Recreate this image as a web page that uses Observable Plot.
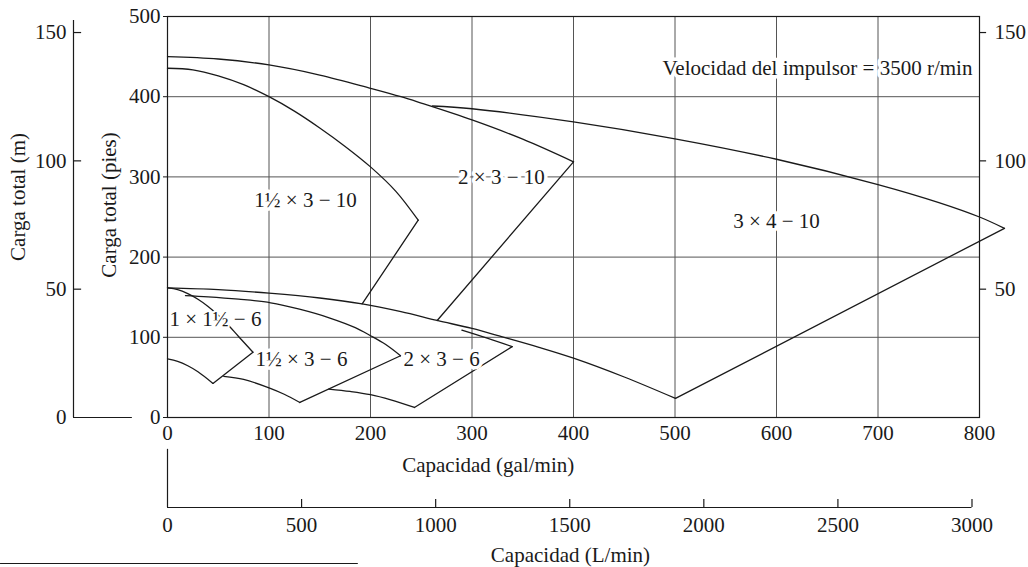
<!DOCTYPE html>
<html>
<head>
<meta charset="utf-8">
<script src="https://cdn.jsdelivr.net/npm/d3@7"></script>
<script src="https://cdn.jsdelivr.net/npm/@observablehq/plot@0.6"></script>
<style>
  html, body { margin: 0; padding: 0; background: #ffffff; }
  #chart { width: 1028px; height: 567px; overflow: hidden; }
</style>
</head>
<body>
<div id="chart"></div>
<script>
// ---------- tick values ----------
const gpmTicks = [0, 100, 200, 300, 400, 500, 600, 700, 800];
const ftTicks = [0, 100, 200, 300, 400, 500];
const mTicks = [0, 50, 100, 150];
const lpmTicks = [0, 500, 1000, 1500, 2000, 2500, 3000];
const FT_PER_M = 3.2;      // meter scale as drawn on the chart
const L_PER_GAL = 3.785;   // L/min per gal/min

// ---------- curves: [capacity gal/min, head ft] ----------
// 10-in impellers, maximum-diameter curves
const max_1h_3_10 = [[0, 435.5], [25, 433.5], [50, 426], [75, 415], [100, 400], [125, 382], [150, 361], [175, 338], [200, 312.5], [225, 282], [247, 246]];
const max_2_3_10 = [[0, 450], [50, 447], [100, 439.6], [150, 427], [200, 410.5], [230, 400], [250, 392], [300, 371], [350, 347], [400, 318.8]];
const max_3_4_10 = [[261, 388.4], [300, 385], [400, 368.5], [500, 347.5], [600, 322], [700, 290.5], [760, 268], [800, 250], [824.6, 235.9]];
// 10-in minimum-diameter curve (shared lower boundary)
const min_10 = [[0, 161.7], [50, 159.5], [100, 155], [150, 149], [191.8, 141.7], [230, 132], [265.7, 121], [300, 111], [330, 100.5], [366, 87.5], [400, 74], [450, 50.5], [500.5, 23.8]];
// 6-in impellers
const max_1_1h_6 = [[0, 161.7], [10, 159.5], [20, 154.5], [30, 147.5], [40, 138.5], [50, 127.5], [60, 115], [70, 101], [84.2, 81.3]];
const min_1_1h_6 = [[0, 73], [10, 70], [20, 64.5], [30, 57], [44.8, 42.5]];
const max_1h_3_6 = [[17.7, 152], [40, 150.5], [70, 147.5], [101.6, 143], [130, 135], [160, 124], [185, 112], [200, 102], [215, 91], [229.6, 77]];
const min_1h_3_6 = [[55.5, 51.3], [75, 47.5], [100, 37], [115, 29], [130.4, 18.75]];
const max_2_3_6 = [[290, 109], [315, 99], [339.6, 88.4]];
const min_2_3_6 = [[158.9, 35.5], [180, 32.5], [200, 28.5], [220, 22], [243.3, 12.5]];
// straight right-hand boundaries
const edge_1h_3_10 = [[247, 246], [191.8, 141.7]];
const edge_2_3_10 = [[400, 318.8], [265.7, 120.9]];
const edge_3_4_10 = [[824.6, 235.9], [500.5, 23.8]];
const edge_1_1h_6 = [[84.2, 81.3], [44.8, 42.5]];
const edge_1h_3_6 = [[229.6, 77], [130.4, 18.75]];
const edge_2_3_6 = [[339.6, 88.4], [243.3, 12.5]];

// ---------- labels ----------
const pumpNames = ["1½ × 3 − 10", "2 × 3 − 10", "3 × 4 − 10", "1 × 1½ − 6", "1½ × 3 − 6", "2 × 3 − 6"];
const pumpLabelQ = [136, 329, 600, 2, 132, 270];
const pumpLabelH = [271, 299, 245, 123, 73, 73];
const pumpLabelAnchor = ["middle", "middle", "middle", "start", "middle", "middle"];
const speedNote = "Velocidad del impulsor = 3500 r/min";

// ---------- build tables ----------
const smoothCurves = {max_1h_3_10, max_2_3_10, max_3_4_10, min_10, max_1_1h_6, min_1_1h_6, max_1h_3_6, min_1h_3_6, max_2_3_6, min_2_3_6};
const straightEdges = {edge_1h_3_10, edge_2_3_10, edge_3_4_10, edge_1_1h_6, edge_1h_3_6, edge_2_3_6};
const toRows = obj => Object.entries(obj).flatMap(([id, pts]) => pts.map(([q, h]) => ({id, q, h})));
const smoothRows = toRows(smoothCurves);
const edgeRows = toRows(straightEdges);
const labelRows = pumpNames.map((t, i) => ({t, q: pumpLabelQ[i], h: pumpLabelH[i], a: pumpLabelAnchor[i]}));

const FONT = "'Liberation Serif', 'Times New Roman', Times, serif";
const INK = "#1a1a1a";
const GRID = "#555555";
const FS = 21;

const chart = Plot.plot({
  width: 1028,
  height: 567,
  marginLeft: 167,
  marginRight: 49,
  marginTop: 16,
  marginBottom: 150,
  style: {fontFamily: FONT, fontSize: FS + "px", color: INK, background: "#ffffff"},
  x: {domain: [0, 800], ticks: gpmTicks, tickSize: 0, tickPadding: 8, label: null, tickFormat: d => String(d)},
  y: {domain: [0, 500], ticks: ftTicks, tickSize: 4, tickPadding: 3, label: null, tickFormat: d => String(d)},
  marks: [
    // grid
    Plot.ruleX(gpmTicks.slice(1, -1), {y1: 0, y2: 500, stroke: GRID, strokeWidth: 1}),
    Plot.ruleY(ftTicks.slice(1, -1), {x1: 0, x2: 800, stroke: GRID, strokeWidth: 1}),
    Plot.frame({stroke: INK, strokeWidth: 1.2}),
    // curves
    Plot.line(smoothRows, {x: "q", y: "h", z: "id", curve: "catmull-rom", stroke: INK, strokeWidth: 1.3}),
    Plot.line(edgeRows, {x: "q", y: "h", z: "id", curve: "linear", stroke: INK, strokeWidth: 1.3}),
    // pump labels with white halo (breaks the grid as in the original)
    Plot.text(labelRows.filter(d => d.a === "middle"), {x: "q", y: "h", text: "t", textAnchor: "middle", fontSize: FS, fill: INK, stroke: "white", strokeWidth: 7}),
    Plot.text(labelRows.filter(d => d.a === "start"), {x: "q", y: "h", text: "t", textAnchor: "start", fontSize: FS, fill: INK, stroke: "white", strokeWidth: 4}),
    Plot.text([speedNote], {x: 793, y: 436, text: d => d, textAnchor: "end", fontSize: FS, fill: INK, stroke: "white", strokeWidth: 7}),
    // left metre axis
    Plot.ruleX([0], {y1: 0, y2: 495, dx: -94, stroke: INK, strokeWidth: 1.2}),
    Plot.ruleY([0], {x1: 0, x2: 58, dx: -94, stroke: INK, strokeWidth: 1.2}),
    Plot.ruleY(mTicks.slice(1), {y: d => d * FT_PER_M, x1: 0, x2: 8, dx: -94, stroke: INK, strokeWidth: 1.2}),
    Plot.text(mTicks, {x: 0, y: d => d * FT_PER_M, text: d => String(d), dx: -101, textAnchor: "end", fontSize: FS, fill: INK}),
    // right metre axis
    Plot.ruleY(mTicks.slice(1), {y: d => d * FT_PER_M, x1: 800, x2: 807, stroke: INK, strokeWidth: 1.2}),
    Plot.text(mTicks.slice(1), {x: 800, y: d => d * FT_PER_M, text: d => String(d), dx: 15, textAnchor: "start", fontSize: FS, fill: INK}),
    // vertical axis titles
    Plot.text(["Carga total (pies)"], {x: 0, y: 265, text: d => d, dx: -58, rotate: -90, fontSize: FS, fill: INK}),
    Plot.text(["Carga total (m)"], {x: 0, y: 275, text: d => d, dx: -149, rotate: -90, fontSize: FS, fill: INK}),
    // gal/min title
    Plot.text(["Capacidad (gal/min)"], {x: 316, y: 0, text: d => d, dy: 48, fontSize: FS, fill: INK}),
    // L/min axis
    Plot.ruleX([0], {y1: 0, y2: 72.5, dy: 90, stroke: INK, strokeWidth: 1.2}),
    Plot.ruleY([0], {x1: 0, x2: lpmTicks[lpmTicks.length - 1] / L_PER_GAL, dy: 90, stroke: INK, strokeWidth: 1.2}),
    Plot.ruleX(lpmTicks.slice(1), {x: d => d / L_PER_GAL, y1: 0, y2: 10, dy: 90, stroke: INK, strokeWidth: 1.2}),
    Plot.text(lpmTicks, {x: d => d / L_PER_GAL, y: 0, text: d => String(d), dy: 108, fontSize: FS, fill: INK}),
    Plot.text(["Capacidad (L/min)"], {x: 397, y: 0, text: d => d, dy: 138, fontSize: FS, fill: INK}),
    // footnote rule at bottom-left
    Plot.ruleY([0], {x1: -164.5, x2: 188, dy: 146, stroke: INK, strokeWidth: 1.2})
  ]
});
document.getElementById("chart").appendChild(chart);
</script>
</body>
</html>
